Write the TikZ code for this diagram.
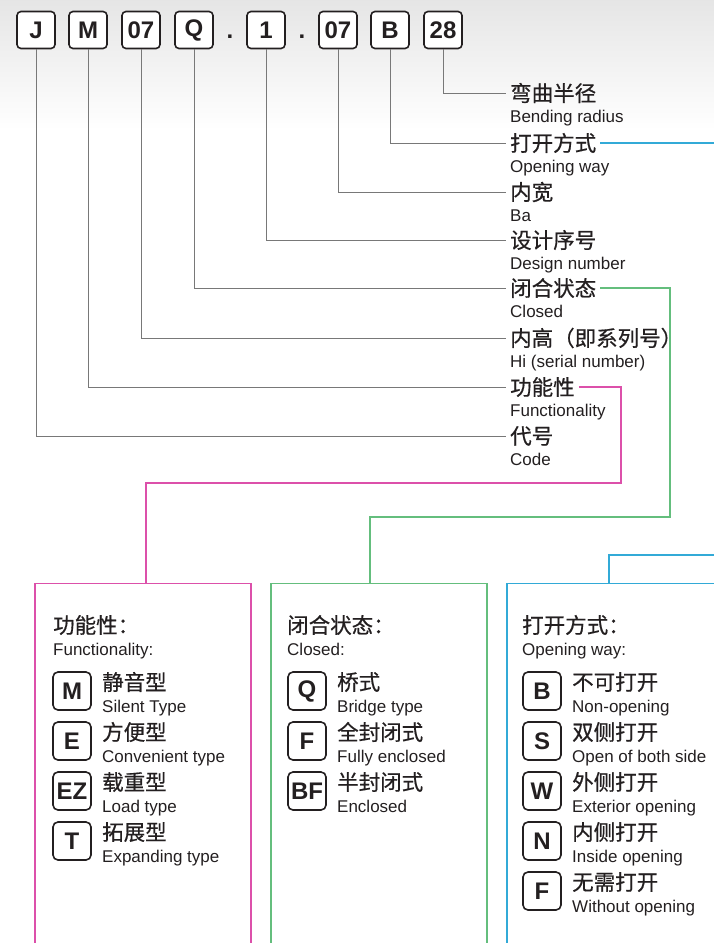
\documentclass[tikz,border=0pt]{standalone}
\usepackage{fontspec}
\setmainfont{Liberation Sans}
\newfontfamily\cjk{Noto Sans CJK SC}[FakeBold=0.6]
\usetikzlibrary{positioning}

\definecolor{ink}{RGB}{35,31,32}
\definecolor{wiregray}{RGB}{120,120,120}
\definecolor{pinkish}{RGB}{220,80,170}
\definecolor{greenish}{RGB}{100,190,125}
\definecolor{bluish}{RGB}{50,170,215}

\tikzset{
    code/.style={draw=ink, line width=1.6pt, rounded corners=4pt,
        minimum width=38pt, minimum height=37pt, inner sep=0pt,
        text=ink, font=\fontsize{24}{24}\selectfont\bfseries},
    pick/.style={code, minimum height=38pt, rounded corners=5pt},
    dot/.style={text=ink, inner sep=0pt, font=\fontsize{24}{24}\selectfont\bfseries},
    zh/.style={anchor=west, inner xsep=4pt, inner ysep=0pt, text=ink,
        font=\cjk\fontsize{21.5}{22}\selectfont},
    en/.style={anchor=base west, inner xsep=4pt, inner ysep=0pt, text=ink,
        font=\fontsize{17}{18}\selectfont},
    wire/.style={draw=wiregray, line width=0.9pt},
    pinkline/.style={draw=pinkish, line width=1.2pt},
    greenline/.style={draw=greenish, line width=1.2pt},
    blueline/.style={draw=bluish, line width=1.2pt},
    panel/.style={line width=1.2pt, minimum width=216pt,
        minimum height=380pt, anchor=north, outer sep=0pt}
}

\begin{document}
\begin{tikzpicture}[x=1pt,y=-1pt]
    \useasboundingbox (0,0) rectangle (714,943);
    \clip (0,0) rectangle (714,943);
    \shade[top color=black!10, bottom color=white] (0,0) rectangle (714,130);

    % Codigo del modelo
    \node[code, fill=white] (cJ) at (36,30) {J};
    \node[code, fill=white] (cM) at (88,30) {M};
    \node[code, fill=white] (cH) at (141,30) {07};
    \node[code, fill=white] (cQ) at (194,30) {Q};
    \node[dot] (p1) at (230,37) {.};
    \node[code, fill=white] (cN) at (266,30) {1};
    \node[dot] (p2) at (302,37) {.};
    \node[code, fill=white] (cW) at (338,30) {07};
    \node[code, fill=white] (cB) at (390,30) {B};
    \node[code, fill=white] (cR) at (443,30) {28};

    % Significado de cada parte
    \node[zh] (zR) at (506,93) {弯曲半径};
    \node[en] (eR) at (506,122) {Bending radius};
    \node[zh] (zB) at (506,143) {打开方式};
    \node[en] (eB) at (506,172) {Opening way};
    \node[zh] (zW) at (506,192) {内宽};
    \node[en] (eW) at (506,221) {Ba};
    \node[zh] (zN) at (506,240) {设计序号};
    \node[en] (eN) at (506,269) {Design number};
    \node[zh] (zQ) at (506,288) {闭合状态};
    \node[en] (eQ) at (506,317) {Closed};
    \node[zh] (zH) at (506,338) {内高（即系列号）};
    \node[en] (eH) at (506,367) {Hi (serial number)};
    \node[zh] (zM) at (506,387) {功能性};
    \node[en] (eM) at (506,416) {Functionality};
    \node[zh] (zJ) at (506,436) {代号};
    \node[en] (eJ) at (506,465) {Code};

    \draw[wire] (cR.south) |- (zR.west);
    \draw[wire] (cB.south) |- (zB.west);
    \draw[wire] (cW.south) |- (zW.west);
    \draw[wire] (cN.south) |- (zN.west);
    \draw[wire] (cQ.south) |- (zQ.west);
    \draw[wire] (cH.south) |- (zH.west);
    \draw[wire] (cM.south) |- (zM.west);
    \draw[wire] (cJ.south) |- (zJ.west);

    % Cuadros de opciones
    \node[panel, pinkline] (pM) at (143,583.5) {};
    \node[panel, greenline] (pC) at (379,583.5) {};
    \node[panel, blueline] (pO) at (615,583.5) {};

    \coordinate (bOut) at (714,143);
    \coordinate (bIn) at (714,555);
    \draw[pinkline] (zM.east) -| (621,483) -| ([xshift=3pt]pM.north);
    \draw[greenline] (zQ.east) -| (670,517) -| ([xshift=-9pt]pC.north);
    \draw[blueline] (zB.east) -- (zB.east -| bOut);
    \draw[blueline] (bIn) -| ([xshift=-6pt]pO.north);

    % Funcionalidad
    \node[zh] (hM) at (49,625) {功能性：};
    \node[en] (hMe) at (49,655) {Functionality:};
    \node[pick] (kM1) at (72,691) {M};
    \node[zh] (tM1) at (98,682) {静音型};
    \node[en] (sM1) at (98,712) {Silent Type};
    \node[pick] (kM2) at (72,741) {E};
    \node[zh] (tM2) at (98,732) {方便型};
    \node[en] (sM2) at (98,762) {Convenient type};
    \node[pick] (kM3) at (72,791) {EZ};
    \node[zh] (tM3) at (98,782) {载重型};
    \node[en] (sM3) at (98,812) {Load type};
    \node[pick] (kM4) at (72,841) {T};
    \node[zh] (tM4) at (98,832) {拓展型};
    \node[en] (sM4) at (98,862) {Expanding type};

    % Estado cerrado
    \node[zh] (hC) at (283,625) {闭合状态：};
    \node[en] (hCe) at (283,655) {Closed:};
    \node[pick] (kC1) at (307,691) {Q};
    \node[zh] (tC1) at (333,682) {桥式};
    \node[en] (sC1) at (333,712) {Bridge type};
    \node[pick] (kC2) at (307,741) {F};
    \node[zh] (tC2) at (333,732) {全封闭式};
    \node[en] (sC2) at (333,762) {Fully enclosed};
    \node[pick] (kC3) at (307,791) {BF};
    \node[zh] (tC3) at (333,782) {半封闭式};
    \node[en] (sC3) at (333,812) {Enclosed};

    % Forma de apertura
    \node[zh] (hO) at (518,625) {打开方式：};
    \node[en] (hOe) at (518,655) {Opening way:};
    \node[pick] (kO1) at (542,691) {B};
    \node[zh] (tO1) at (568,682) {不可打开};
    \node[en] (sO1) at (568,712) {Non-opening};
    \node[pick] (kO2) at (542,741) {S};
    \node[zh] (tO2) at (568,732) {双侧打开};
    \node[en] (sO2) at (568,762) {Open of both side};
    \node[pick] (kO3) at (542,791) {W};
    \node[zh] (tO3) at (568,782) {外侧打开};
    \node[en] (sO3) at (568,812) {Exterior opening};
    \node[pick] (kO4) at (542,841) {N};
    \node[zh] (tO4) at (568,832) {内侧打开};
    \node[en] (sO4) at (568,862) {Inside opening};
    \node[pick] (kO5) at (542,891) {F};
    \node[zh] (tO5) at (568,882) {无需打开};
    \node[en] (sO5) at (568,912) {Without opening};
\end{tikzpicture}
\end{document}
